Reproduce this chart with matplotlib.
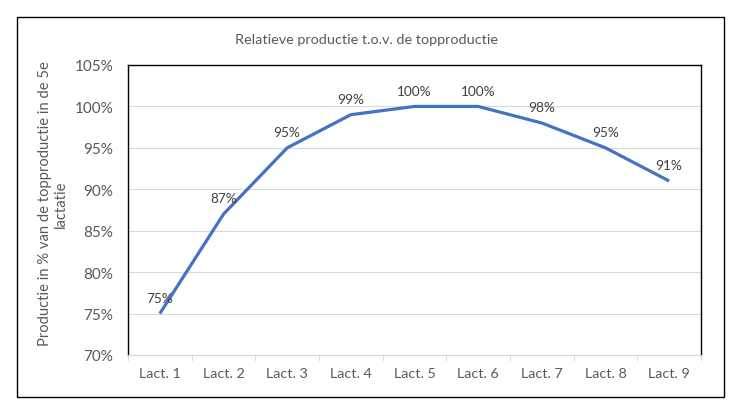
import matplotlib.pyplot as plt
from matplotlib.patches import Rectangle
from matplotlib.ticker import FuncFormatter

categories = ["Lact. 1", "Lact. 2", "Lact. 3", "Lact. 4", "Lact. 5",
              "Lact. 6", "Lact. 7", "Lact. 8", "Lact. 9"]
values = [75, 87, 95, 99, 100, 100, 98, 95, 91]
yticks = [70, 75, 80, 85, 90, 95, 100, 105]

plt.rcParams['font.family'] = ['Lato', 'DejaVu Sans']

W, H = 732, 410
fig = plt.figure(figsize=(W / 100, H / 100), dpi=100)

# outer chart border
fig.patches.append(Rectangle((17 / W, 1 - 398 / H), (724 - 17) / W, (398 - 18) / H,
                             transform=fig.transFigure, fill=False,
                             edgecolor="black", linewidth=1.0))

ax = fig.add_axes([128 / W, 1 - 356 / H, (701 - 128) / W, (356 - 66) / H])

x = list(range(len(categories)))
ax.plot(x, values, color="#4472C4", linewidth=2.3, solid_capstyle="butt")
for xi, v in zip(x, values):
    ax.annotate(f"{v}%", (xi, v), xytext=(0, 7), textcoords="offset points",
                ha="center", va="bottom", fontsize=9.8, color="#404040")

ax.set_xlim(-0.5, len(categories) - 0.5)
ax.set_ylim(70, 105)
ax.set_yticks(yticks)
ax.yaxis.set_major_formatter(FuncFormatter(lambda v, p: f"{v:.0f}%"))
ax.grid(axis="y", color="#D9D9D9", linewidth=0.8)
ax.set_axisbelow(True)

ax.set_xticks(x)
ax.set_xticklabels(categories)
ax.set_xticks([i - 0.5 for i in range(len(categories) + 1)], minor=True)
ax.tick_params(axis="x", which="major", length=0, pad=9, labelsize=10.3, labelcolor="#595959")
ax.tick_params(axis="x", which="minor", length=4, color="#D9D9D9", direction="out")
ax.tick_params(axis="y", length=0, pad=10.5, labelsize=11, labelcolor="#595959")

for s in ["left", "top", "right"]:
    ax.spines[s].set_color("black")
    ax.spines[s].set_linewidth(1.0)
ax.spines["bottom"].set_color("#D9D9D9")
ax.spines["bottom"].set_linewidth(0.8)

fig.text(367 / W, 1 - 40 / H, "Relatieve productie t.o.v. de topproductie",
         ha="center", va="center", fontsize=10.4, color="#595959")
fig.text(53 / W, 1 - 204 / H, "Productie in % van de topproductie in de 5e\nlactatie",
         ha="center", va="center", rotation=90, fontsize=10.6, color="#595959",
         multialignment="center", linespacing=1.25)

fig.savefig("out.png", dpi=100)
